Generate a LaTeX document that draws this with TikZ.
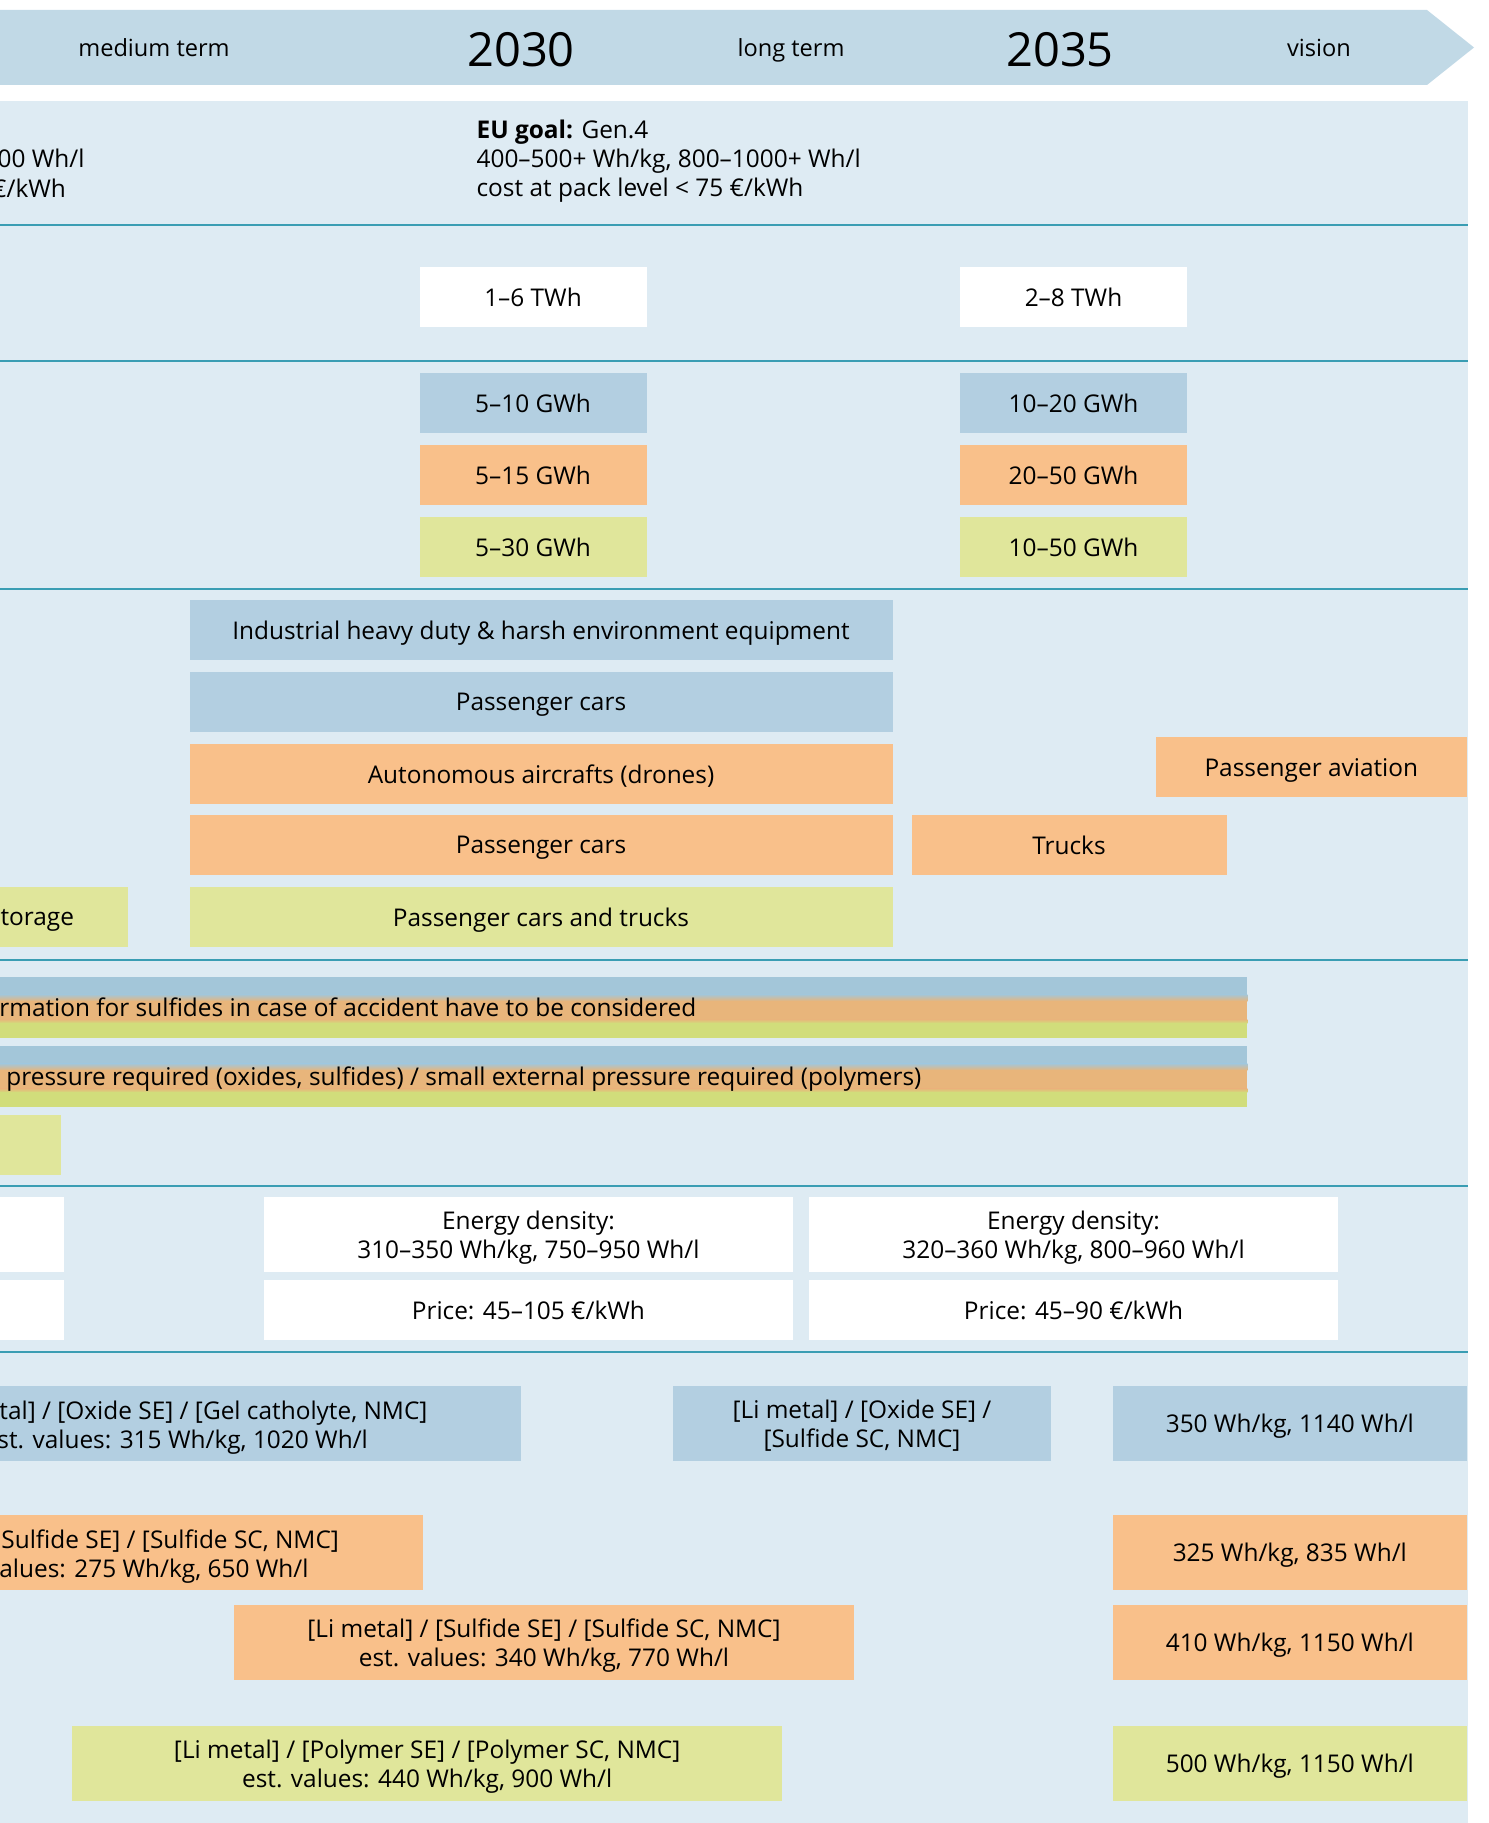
\documentclass[tikz,border=0pt]{standalone}
\usepackage{fontspec}
\setmainfont{Open Sans}
\definecolor{bannerblue}{HTML}{C1D9E6}
\definecolor{panelblue}{HTML}{DEEBF3}
\definecolor{rulecol}{HTML}{3A9DB3}
\definecolor{boxblue}{HTML}{B3CFE1}
\definecolor{boxorange}{HTML}{F9C08A}
\definecolor{boxgreen}{HTML}{E0E69B}
\definecolor{stripblue}{HTML}{A3C6D9}
\definecolor{striporange}{HTML}{E8B57B}
\definecolor{stripgreen}{HTML}{D1DD7B}
\newcommand\chartfont{\fontsize{12.2}{14.6}\selectfont}
\tikzset{
cell/.style={inner sep=0pt, outer sep=0pt, align=center, text depth=0pt, font=\chartfont},
short/.style={cell, minimum height=30pt},
tall/.style={cell, minimum height=37.75pt},
bluebox/.style={fill=boxblue},
orangebox/.style={fill=boxorange},
greenbox/.style={fill=boxgreen},
whitebox/.style={fill=white},
phase/.style={inner sep=0pt, font=\fontsize{11.8}{14}\selectfont, anchor=base},
year/.style={inner sep=0pt, font=\fontsize{23.5}{26}\selectfont, anchor=base},
cuttext/.style={inner sep=0pt, text depth=0pt, font=\chartfont, anchor=east},
seprule/.style={rulecol, line width=1pt},
}

\begin{document}
\begin{tikzpicture}[x=0.5pt, y=-0.5pt]
\useasboundingbox (0,0) rectangle (1488,1823);

% timeline
\fill[bannerblue] (0,10) -- (1427,10) -- (1474,47.5) -- (1427,85) -- (0,85) -- cycle;
\node[phase] (medium) at (154,57) {medium term};
\node[year] (y2030) at (521,67) {2030};
\node[phase] (long) at (791,57) {long term};
\node[year] (y2035) at (1060,67) {2035};
\node[phase] (vision) at (1319,57) {vision};

\fill[panelblue] (0,100.7) rectangle (1467.7,1823);
\foreach \y in {225.5,361.5,588.5,959.5,1186,1352.3}
  \draw[seprule] (0,\y) -- (1467.7,\y);

% targets
\node[cuttext] (wh) at (84.9,158.5) {00 Wh/l};
\node[cuttext] (kwh) at (66.3,188.5) {€/kWh};
\node[cell, anchor=west, align=left] (eugoal) at (476.6,158)
  {\textbf{EU goal:} Gen.4\\ 400–500+ Wh/kg, 800–1000+ Wh/l\\ cost at pack level < 75 €/kWh};

% market
\node[short, whitebox, minimum width=113.5pt] (twhA) at (533,297) {1–6 TWh};
\node[short, whitebox, minimum width=113.5pt] (twhB) at (1073.5,297) {2–8 TWh};

\node[short, bluebox, minimum width=113.5pt] (gwhA1) at (533,403.4) {5–10 GWh};
\node[short, orangebox, minimum width=113.5pt] (gwhA2) at (533,475.5) {5–15 GWh};
\node[short, greenbox, minimum width=113.5pt] (gwhA3) at (533,547) {5–30 GWh};
\node[short, bluebox, minimum width=113.5pt] (gwhB1) at (1073.5,403.4) {10–20 GWh};
\node[short, orangebox, minimum width=113.5pt] (gwhB2) at (1073.5,475.5) {20–50 GWh};
\node[short, greenbox, minimum width=113.5pt] (gwhB3) at (1073.5,547) {10–50 GWh};

% applications
\node[short, bluebox, minimum width=351.5pt] (industry) at (541,630) {Industrial heavy duty \& harsh environment equipment};
\node[short, bluebox, minimum width=351.5pt] (carsB) at (541,702) {Passenger cars};
\node[short, orangebox, minimum width=351.5pt] (drones) at (541,773.7) {Autonomous aircrafts (drones)};
\node[short, orangebox, minimum width=351.5pt] (carsO) at (541,845.2) {Passenger cars};
\node[short, greenbox, minimum width=351.5pt] (carsG) at (541,917.2) {Passenger cars and trucks};
\node[short, greenbox, minimum width=64pt] (storage) at (64,917.2) {};
\node[cuttext] (storagetxt) at (74.4,917.2) {torage};
\node[short, orangebox, minimum width=157.5pt] (trucks) at (1069,845.2) {Trucks};
\node[short, orangebox, minimum width=155.75pt] (aviation) at (1311.3,767.3) {Passenger aviation};

% safety
\foreach \t in {976.7,1046} {
  \fill[stripblue] (0,\t) rectangle (1247.4,\t+18);
  \shade[top color=stripblue, bottom color=striporange] (0,\t+17.5) rectangle (1247.4,\t+24.5);
  \fill[striporange] (0,\t+24) rectangle (1247.4,\t+43);
  \shade[top color=striporange, bottom color=stripgreen] (0,\t+42.5) rectangle (1247.4,\t+46.5);
  \fill[stripgreen] (0,\t+46) rectangle (1247.4,\t+61);
}
\node[cuttext, anchor=west] (gas) at (-1,1007) {rmation for sulfides in case of accident have to be considered};
\node[cuttext, anchor=west] (pressure) at (6,1076.6) {pressure required (oxides, sulfides) / small external pressure required (polymers)};
\node[short, greenbox, minimum width=30.25pt] (greenlet) at (30.25,1144.5) {};

% cell performance
\node[tall, whitebox, minimum width=32pt] (edcut) at (32,1234.5) {};
\node[tall, whitebox, minimum width=264.5pt] (edA) at (528.4,1234.5) {Energy density:\\ 310–350 Wh/kg, 750–950 Wh/l};
\node[tall, whitebox, minimum width=264.5pt] (edB) at (1073.5,1234.5) {Energy density:\\ 320–360 Wh/kg, 800–960 Wh/l};
\node[short, whitebox, minimum width=32pt] (pricecut) at (32,1310) {};
\node[short, whitebox, minimum width=264.5pt] (priceA) at (528.4,1310) {Price: 45–105 €/kWh};
\node[short, whitebox, minimum width=264.5pt] (priceB) at (1073.5,1310) {Price: 45–90 €/kWh};

% cell concepts
\node[tall, bluebox, minimum width=260.5pt] (oxideA) at (260.4,1423.7) {};
\node[cuttext, anchor=west] (oxideAa) at (-1,1410) {tal] / [Oxide SE] / [Gel catholyte, NMC]};
\node[cuttext, anchor=west] (oxideAb) at (-3,1439) {st. values: 315 Wh/kg, 1020 Wh/l};
\node[tall, bluebox, minimum width=189pt] (oxideB) at (862,1423.7) {[Li metal] / [Oxide SE] /\\{}[Sulfide SC, NMC]};
\node[tall, bluebox, minimum width=177.25pt] (oxideV) at (1289.8,1423.7) {350 Wh/kg, 1140 Wh/l};

\node[tall, orangebox, minimum width=211.5pt] (sulfA) at (211.5,1552.7) {};
\node[cuttext, anchor=west] (sulfAa) at (1,1539) {Sulfide SE] / [Sulfide SC, NMC]};
\node[cuttext, anchor=west] (sulfAb) at (-1,1568) {alues: 275 Wh/kg, 650 Wh/l};
\node[tall, orangebox, minimum width=177.25pt] (sulfV1) at (1289.8,1552.7) {325 Wh/kg, 835 Wh/l};
\node[tall, orangebox, minimum width=310.35pt] (sulfB) at (544,1642.7) {[Li metal] / [Sulfide SE] / [Sulfide SC, NMC]\\ est. values: 340 Wh/kg, 770 Wh/l};
\node[tall, orangebox, minimum width=177.25pt] (sulfV2) at (1289.8,1642.7) {410 Wh/kg, 1150 Wh/l};

\node[tall, greenbox, minimum width=355.2pt] (polyA) at (427.2,1763.7) {[Li metal] / [Polymer SE] / [Polymer SC, NMC]\\ est. values: 440 Wh/kg, 900 Wh/l};
\node[tall, greenbox, minimum width=177.25pt] (polyV) at (1289.8,1763.7) {500 Wh/kg, 1150 Wh/l};
\end{tikzpicture}
\end{document}
